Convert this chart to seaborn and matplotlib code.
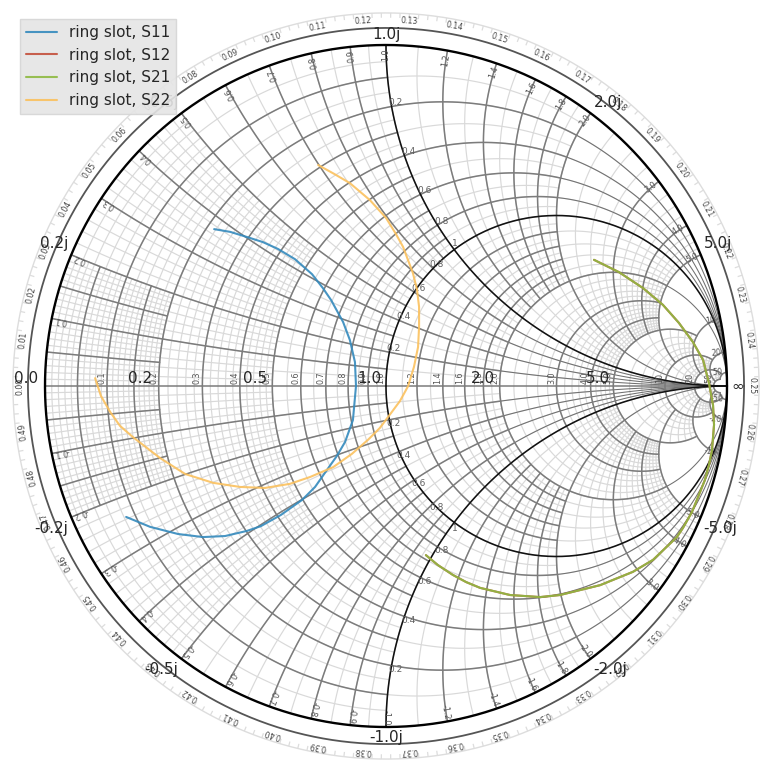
import numpy as np
import pandas as pd
import matplotlib
matplotlib.use("Agg")
import matplotlib.pyplot as plt
from matplotlib.collections import LineCollection
import seaborn as sns

# ---------------------------
# Traces (re, im)
# ---------------------------
S11_RE = [-.504, -.457, -.408, -.361, -.317, -.267, -.217, -.185, -.161, -.126, -.106, -.091, -.088,
          -.097, -.120, -.144, -.173, -.208, -.246, -.308, -.367, -.408, -.472, -.537, -.610, -.692, -.762]
S11_IM = [.460, .452, .437, .422, .402, .372, .328, .287, .252, .188, .135, .070, 0,
          -.100, -.164, -.205, -.246, -.296, -.334, -.378, -.411, -.425, -.440, -.443, -.434, -.413, -.384]
S22_RE = [-.853, -.836, -.809, -.780, -.742, -.663, -.589, -.507, -.428, -.355, -.282, -.223, -.155, -.100,
          -.053, -.018, .015, .041, .065, .082, .094, .097, .097, .091, .079, .050, .029, 0, -.047, -.106,
          -.152, -.199]
S22_IM = [.023, -.029, -.076, -.117, -.150, -.211, -.258, -.284, -.296, -.299, -.287, -.267, -.238, -.199,
          -.158, -.123, -.079, -.044, 0, .056, .114, .173, .232, .282, .331, .408, .446, .493, .545, .595,
          .622, .648]
S21_RE = [.610, .683, .754, .812, .859, .900, .930, .947, .959, .962, .956, .947, .935, .915, .897, .871,
          .853, .783, .724, .628, .510, .452, .364, .276, .235, .196, .152, .117]
S21_IM = [.370, .334, .287, .238, .185, .129, .076, .009, -.056, -.114, -.188, -.232, -.276, -.326, -.370, -.416,
          -.443, -.510, -.545, -.584, -.613, -.619, -.613, -.592, -.575, -.554, -.525, -.496]
S12_RE = S21_RE
S12_IM = S21_IM

SERIES_NAMES = ["ring slot, S11", "ring slot, S12", "ring slot, S21", "ring slot, S22"]
SERIES_COLORS = ["#348ABD", "#C4503C", "#8EBA42", "#FBC15E"]

# ---------------------------
# Chart furniture
# ---------------------------
R_BIG_LABELS = [0.0, 0.2, 0.5, 1.0, 2.0, 5.0]
X_BIG_LABELS = [0.2, 0.5, 1.0, 2.0, 5.0]

# value: how far the dark line runs along the other family
R_DARK = {.05: .2, .1: 1, .15: .2, .2: 2, .3: 1, .4: 2, .5: 1, .6: 2, .7: 1, .8: 2, .9: 1,
          1.2: 2, 1.4: 2, 1.6: 2, 1.8: 2, 2: 5, 3: 5, 4: 5, 5: 10, 10: 20, 20: 50, 50: 50}
X_DARK = {.05: .2, .1: 1, .15: .2, .2: 2, .3: 1, .4: 2, .5: 1, .6: 2, .7: 1, .8: 2, .9: 1,
          1.2: 2, 1.4: 2, 1.6: 2, 1.8: 2, 2: 5, 3: 5, 4: 5, 5: 10, 10: 20, 20: 50, 50: 50}
# thin continuation towards the right hand end of the chart
THIN_FROM = {.2: 2, .4: 2, .6: 2, .8: 2, 2: 5}
# r from, r to, x from, x to, r step, x step
MESH = [(0, .2, 0, .2, .01, .01), (0, .2, .2, .5, .02, .02), (0, .5, .5, 1, .05, .05),
        (.2, .5, 0, .5, .02, .02), (.5, 1, 0, 1, .05, .05), (0, 1, 1, 2, .1, .1),
        (1, 2, 0, 2, .1, .1), (0, 2, 2, 5, .2, .25), (2, 5, 0, 5, .2, .2),
        (5, 10, 0, 10, 1, 1), (10, 20, 0, 20, 2, 2), (20, 50, 0, 50, 10, 10)]

R_TICKS = [.1, .2, .3, .4, .5, .6, .7, .8, .9, 1.0, 1.2, 1.4, 1.6, 1.8, 2.0, 3.0, 4.0, 5.0, 10, 20, 50]
X_TICKS = [.1, .2, .3, .4, .5, .6, .7, .8, .9, 1.0, 1.2, 1.4, 1.6, 1.8, 2.0, 3.0, 4.0, 5.0, 10, 20, 50]
INNER_LABELS = [.2, .4, .6, .8]

PX = 341.0  # pixels per unit of reflection coefficient
MESH_COLOR = "#d9d9d9"
DARK_COLOR = "#7c7c7c"


def gamma(r, x):
    z = np.asarray(r) + 1j * np.asarray(x)
    return (z - 1) / (z + 1)


def span(lo, hi, n=400):
    if lo == 0:
        return np.r_[0, np.geomspace(min(hi * 1e-3, 1e-3), hi, n)]
    return np.geomspace(lo, hi, n)


def r_line(r, lo, hi):
    x = span(lo, hi)
    return [gamma(r, x), gamma(r, -x)]


def x_line(x, lo, hi):
    r = span(lo, hi)
    return [gamma(r, x), gamma(r, -x)]


def to_seg(g):
    return np.column_stack([g.real, g.imag])


def add_lines(ax, curves, color, lw, zorder):
    ax.add_collection(LineCollection([to_seg(g) for g in curves], colors=color,
                                     linewidths=lw, zorder=zorder, capstyle="round"))


def draw_grid(ax):
    # light mesh
    curves = []
    for r0, r1, x0, x1, sr, sx in MESH:
        for r in np.arange(r0, r1 + sr / 2, sr):
            if r > 0:
                curves += r_line(r, x0, x1)
        for x in np.arange(x0, x1 + sx / 2, sx):
            if x > 0:
                curves += x_line(x, r0, r1)
    add_lines(ax, curves, MESH_COLOR, 0.85, 1)

    # thin ends of the main lines
    curves = []
    for v, start in THIN_FROM.items():
        curves += r_line(v, start, 300) + x_line(v, start, 300)
    add_lines(ax, curves, "#707070", 0.75, 2)

    # dark lines
    curves = []
    for r, lim in R_DARK.items():
        curves += r_line(r, 0, lim)
    for x, lim in X_DARK.items():
        curves += x_line(x, 0, lim)
    curves.append(np.array([-1 + 0j, 1 + 0j]))
    add_lines(ax, curves, DARK_COLOR, 1.1, 2)

    # black lines and rim
    curves = r_line(1, 0, 1e4) + x_line(1, 0, 1e4)
    add_lines(ax, curves, "#111111", 1.15, 3)
    theta = np.linspace(0, 2 * np.pi, 720)
    ax.plot(np.cos(theta), np.sin(theta), color="black", lw=1.7, zorder=3)
    ax.plot(1.05 * np.cos(theta), 1.05 * np.sin(theta), color="#555555", lw=1.3, zorder=3)
    ax.plot(1.094 * np.cos(theta), 1.094 * np.sin(theta), color="#dddddd", lw=1.0, zorder=3)


def draw_wavelength_scale(ax):
    ticks = np.deg2rad(180 - 720 * np.arange(0, 0.5, 0.002))
    segs = [[(1.08 * np.cos(t), 1.08 * np.sin(t)), (1.094 * np.cos(t), 1.094 * np.sin(t))] for t in ticks]
    ax.add_collection(LineCollection(segs, colors="#dddddd", linewidths=0.9, zorder=3))
    for i in range(50):
        deg = 180 - 720 * i / 100
        t = np.deg2rad(deg)
        ax.text(1.073 * np.cos(t), 1.073 * np.sin(t), f"{i / 100:.2f}", rotation=deg - 90,
                rotation_mode="anchor", ha="center", va="center", fontsize=5.6, color="#444444", zorder=4)


def draw_small_labels(ax):
    for r in R_TICKS:
        px = gamma(r, 0).real
        text = f"{r:.1f}" if r < 10 else f"{r}"
        ax.text(px - 5 / PX, 8 / PX, text, rotation=90, ha="center", va="center",
                fontsize=5.8, color="#555555", zorder=4)
    # x labels just inside the rim, reading outwards
    for x in X_TICKS:
        text = f"{x:.1f}" if x < 10 else f"{x}"
        for sign in (1, -1):
            g = gamma(0, sign * x)
            deg = np.degrees(np.angle(g))
            ax.text(0.972 * g.real, 0.972 * g.imag, ("-" if sign < 0 else "") + text, rotation=deg,
                    rotation_mode="anchor", ha="center", va="center", fontsize=5.8, color="#555555", zorder=4)
    # labels on the unit resistance and unit reactance lines
    for v in INNER_LABELS:
        for sign in (1, -1):
            for g in (gamma(1, sign * v), gamma(v, sign * 1)):
                ax.text(g.real + 4 / PX, g.imag + sign * 4 / PX, f"{v}", ha="center", va="center",
                        fontsize=6.5, color="#606060", zorder=4)
    for sign in (1, -1):
        g = gamma(1, sign * 1)
        ax.text(g.real + 1 / PX, g.imag + sign * 6 / PX, "1", ha="center", va="center",
                fontsize=6.5, color="#606060", zorder=4)


def draw_big_labels(ax):
    for r in R_BIG_LABELS:
        pos = gamma(r, 0).real * 343 / PX - 5 / PX
        ax.annotate(f"{r}", xy=(pos, 0.008), ha="right", va="baseline",
                    fontsize=11, zorder=6, annotation_clip=False)
    ax.annotate("\u221e", xy=(1.0, 0), xytext=(3, 0), textcoords="offset points",
                ha="left", va="center", fontsize=11, zorder=6)
    for x in X_BIG_LABELS:
        for sign in (1, -1):
            g = gamma(0, sign * x)
            ha = "center" if abs(g.real) < 0.01 else ("left" if g.real > 0 else "right")
            dx = 0 if ha == "center" else (2 if ha == "left" else -2)
            ax.annotate(f"{sign * x}j", xy=(g.real, g.imag), xytext=(dx, 2.5 * sign), textcoords="offset points",
                        ha=ha, va="bottom" if sign > 0 else "top", fontsize=11, zorder=6)


def build_frame():
    pieces = []
    for name, re, im in zip(SERIES_NAMES, [S11_RE, S12_RE, S21_RE, S22_RE], [S11_IM, S12_IM, S21_IM, S22_IM]):
        pieces.append(pd.DataFrame({"re": re, "im": im, "series": name}))
    return pd.concat(pieces, ignore_index=True)


if __name__ == "__main__":
    sns.set_style("white")
    plt.rcParams["font.family"] = "DejaVu Sans"

    fig = plt.figure(figsize=(7.72, 7.72), dpi=100)
    ax = fig.add_axes([0, 0, 1, 1])
    ax.set_xlim(-386 / PX, 386 / PX)
    ax.set_ylim(-386 / PX, 386 / PX)
    ax.set_aspect("equal")

    draw_grid(ax)
    draw_wavelength_scale(ax)
    draw_small_labels(ax)

    sns.lineplot(data=build_frame(), x="re", y="im", hue="series", hue_order=SERIES_NAMES,
                 palette=SERIES_COLORS, sort=False, estimator=None, lw=1.5, alpha=0.9, zorder=5, ax=ax)
    draw_big_labels(ax)

    handles, labels = ax.get_legend_handles_labels()
    leg = ax.legend(handles, labels, loc="upper left", bbox_to_anchor=(20 / 772, 1 - 19 / 772),
                    bbox_transform=fig.transFigure, borderaxespad=0, fontsize=11, fancybox=False,
                    facecolor="#E5E5E5", edgecolor="#D5D5D5", framealpha=0.9)
    leg.set_zorder(10)

    ax.set_xlabel("")
    ax.set_ylabel("")
    ax.axis("off")
    fig.savefig("out.png", dpi=100)
